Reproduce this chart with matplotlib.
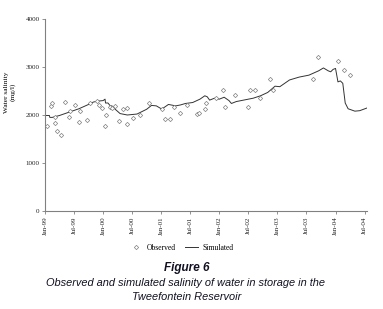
import matplotlib
matplotlib.use("Agg")
import matplotlib.pyplot as plt
from matplotlib.lines import Line2D

# months since Jan-99
obs_month = [0.35, 1.24, 1.39, 2.07, 2.07, 2.54, 3.31, 4.14, 4.97, 5.17, 6.21, 7.1, 7.24,
             8.75, 9.31, 10.7, 11.17, 11.73, 12.48, 12.62, 13.45, 13.8, 14.48, 15.37,
             16.08, 16.9, 16.9, 18.27, 19.66, 21.58, 24.14, 24.83, 25.86, 26.69, 27.79,
             29.32, 31.39, 31.86, 32.96, 33.31, 35.38, 36.77, 37.24, 39.31, 41.86, 42.27,
             43.45, 44.34, 46.55, 47.17, 55.34, 56.34, 60.41, 61.72, 62.97]
obs_value = [1770, 2190, 2240, 1950, 1840, 1670, 1580, 2280, 1960, 2080, 2210, 1850, 2080,
             1900, 2260, 2290, 2210, 2140, 1770, 2000, 2170, 2150, 2190, 1880,
             2120, 2140, 1810, 1930, 2000, 2240, 2120, 1910, 1910, 2170, 2035,
             2210, 2020, 2035, 2120, 2260, 2350, 2530, 2160, 2420, 2160, 2520,
             2530, 2360, 2740, 2530, 2750, 3200, 3130, 2930, 2830]

sim_month = [0, 0.9, 1.0, 1.5, 3, 5, 7, 9, 10, 11, 12, 12.4, 12.5, 13, 13.4, 14, 14.5, 15.5,
             17, 19, 21, 22, 23, 24, 24.5, 25.5, 27, 28, 29, 30.5, 32, 33, 33.5, 34, 35, 36,
             37, 38, 38.5, 39.5, 41, 43, 44.5, 46, 47.5, 48.5, 50.5, 52.5, 54.5, 56.5, 57.5,
             58.5, 59, 59.5, 60, 60.5, 61, 61.5, 62, 62.6, 64, 65, 66.6]
sim_value = [1990, 1990, 1950, 1950, 1990, 2060, 2130, 2220, 2270, 2290, 2300, 2330, 2250,
             2250, 2200, 2180, 2120, 2030, 2000, 2020, 2120, 2200, 2190, 2130, 2150, 2220,
             2190, 2210, 2240, 2260, 2330, 2400, 2380, 2310, 2350, 2330, 2370, 2300, 2240,
             2280, 2310, 2350, 2400, 2470, 2600, 2590, 2730, 2790, 2830, 2920, 2980, 2920,
             2900, 2950, 2970, 2690, 2710, 2660, 2250, 2130, 2080, 2090, 2150]

tick_months = [0, 6, 12, 18, 24, 30, 36, 42, 48, 54, 60, 66]
tick_labels = ["Jan-99", "Jul-99", "Jan-00", "Jul-00", "Jan-01", "Jul-01", "Jan-02",
               "Jul-02", "Jan-03", "Jul-03", "Jan-04", "Jul-04"]
y_ticks = [0, 1000, 2000, 3000, 4000]

fig = plt.figure(figsize=(3.83, 3.09), dpi=100)
ax = fig.add_axes([45/383, 1-211/309, (367-45)/383, (211-19)/309])

serif = "Liberation Serif"
axis_col = "#808080"

ax.plot(sim_month, sim_value, color="#333333", lw=0.7, label="Simulated", zorder=2)
ax.plot(obs_month, obs_value, linestyle="none", marker="D", markersize=2.2,
        markerfacecolor="white", markeredgecolor="#808080", markeredgewidth=0.5,
        label="Observed", zorder=3)

ax.set_xlim(0, 66.5)
ax.set_ylim(0, 4000)
ax.set_xticks(tick_months)
ax.set_xticklabels(tick_labels, rotation=90, fontsize=5, fontfamily=serif)
ax.set_yticks(y_ticks)
ax.set_yticklabels([str(v) for v in y_ticks], fontsize=5, fontfamily=serif)
for s in ["top", "right"]:
    ax.spines[s].set_visible(False)
for s in ["left", "bottom"]:
    ax.spines[s].set_color(axis_col)
    ax.spines[s].set_linewidth(0.8)
ax.tick_params(axis="both", direction="out", length=2.5, width=0.6, color=axis_col,
               pad=1.5, labelcolor="#222222")

fig.text(10/383, 1-92/309, "Water salinity\n(mg/l)", rotation=90, ha="center", va="center",
         fontsize=5.3, fontfamily=serif, linespacing=1.2)

handles = [Line2D([], [], linestyle="none", marker="D", markersize=2.2, markerfacecolor="white",
                  markeredgecolor="#808080", markeredgewidth=0.5),
           Line2D([], [], color="#333333", lw=0.7)]
fig.legend(handles, ["Observed", "Simulated"], loc="center", bbox_to_anchor=(181/383, 1-248/309),
           ncol=2, frameon=False, prop={"family": serif, "size": 5.5}, handlelength=1.8,
           columnspacing=1.2, handletextpad=0.5)

fig.text(187/383, 1-268/309, "Figure 6", ha="center", va="center", fontsize=8.5,
         fontweight="bold", fontstyle="italic", fontfamily="Liberation Sans", color="#111122")
fig.text(186/383, 1-283/309,
         "Observed and simulated salinity of water in storage in the",
         ha="center", va="center", fontsize=7.9, fontstyle="italic",
         fontfamily="Liberation Sans", color="#111122")
fig.text(187/383, 1-297.5/309, "Tweefontein Reservoir",
         ha="center", va="center", fontsize=7.9, fontstyle="italic",
         fontfamily="Liberation Sans", color="#111122")

fig.savefig("out.png", dpi=100)
